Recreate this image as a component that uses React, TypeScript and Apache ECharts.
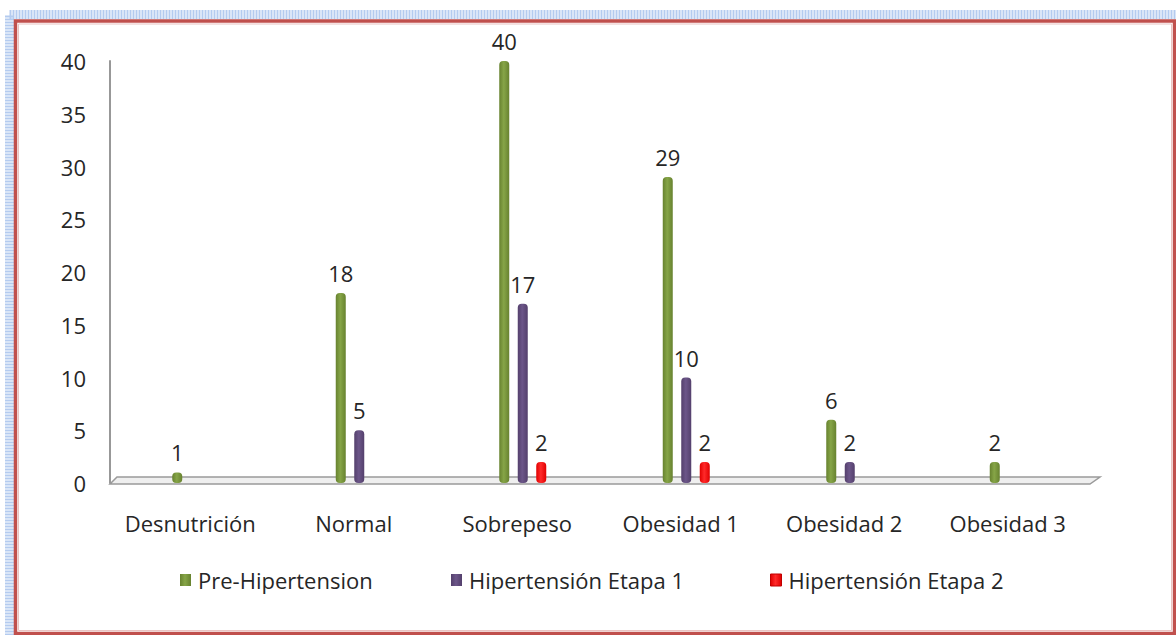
import React, { useEffect, useRef } from "react";
import * as echarts from "echarts";

const categories = ["Desnutrición", "Normal", "Sobrepeso", "Obesidad 1", "Obesidad 2", "Obesidad 3"];
const seriesNames = ["Pre-Hipertension", "Hipertensión Etapa 1", "Hipertensión Etapa 2"];
const preHipertension = [1, 18, 40, 29, 6, 2];
const hipertensionEtapa1 = [null, 5, 17, 10, 2, null];
const hipertensionEtapa2 = [null, null, 2, 2, null, null];
const yTicks = [0, 5, 10, 15, 20, 25, 30, 35, 40];

const FONT = "'Open Sans', 'DejaVu Sans', sans-serif";
const FS = 22;
const TEXT = "#262626";
const W = 1176;
const H = 635;
const GL = 114;
const GR_MARGIN = 81;
const GT = 61;
const GB_MARGIN = H - 483;

function cyl(light: string, dark: string) {
  return new echarts.graphic.LinearGradient(0, 0, 1, 0, [
    { offset: 0, color: dark },
    { offset: 0.45, color: light },
    { offset: 1, color: dark },
  ]);
}

export default function App() {
  const ref = useRef<HTMLDivElement>(null);
  useEffect(() => {
    if (!ref.current) return;
    const chart = echarts.init(ref.current, null, { renderer: "svg" });
    const GR = W - GR_MARGIN;
    const Y0 = H - GB_MARGIN;
    const colors = ["#77933c", "#604a7b", "#ff0000"];
    const fills = [
      cyl("#86a547", "#67822f"),
      cyl("#6c5689", "#54406c"),
      cyl("#ff2a2a", "#e00000"),
    ];
    const dataSets = [preHipertension, hipertensionEtapa1, hipertensionEtapa2];
    const legendLefts = [180, 451, 770];
    chart.setOption({
      animation: false,
      backgroundColor: "#ffffff",
      textStyle: { fontFamily: FONT },
      grid: { left: GL, right: GR_MARGIN, top: GT, bottom: GB_MARGIN, containLabel: false },
      legend: seriesNames.map((n, i) => ({
        left: legendLefts[i],
        top: 569,
        padding: 0,
        data: [n],
        itemWidth: 11,
        itemHeight: 12,
        icon: "rect",
        textStyle: { fontFamily: FONT, fontSize: FS, color: TEXT, padding: [0, 0, 0, 2] },
        itemStyle: i === 2 ? { borderColor: "#c00000", borderWidth: 1 } : {},
      })),
      xAxis: {
        type: "category",
        data: categories,
        axisLine: { show: false },
        axisTick: { show: false },
        axisLabel: {
          interval: 0,
          hideOverlap: false,
          fontFamily: FONT,
          fontSize: FS,
          color: TEXT,
          margin: 29,
          padding: [0, 11, 0, 0],
        },
        splitLine: { show: false },
      },
      yAxis: {
        type: "value",
        min: 0,
        max: 40,
        interval: 5,
        offset: 4,
        axisLine: { show: true, lineStyle: { color: "#989898", width: 2 } },
        axisTick: { show: false },
        splitLine: { show: false },
        axisLabel: {
          fontFamily: FONT,
          fontSize: FS,
          color: TEXT,
          margin: 24,
          formatter: (v: number) => (yTicks.includes(v) ? String(v) : ""),
        },
      },
      graphic: [
        {
          type: "rect",
          z: -10,
          silent: true,
          shape: { x: 9.5, y: 14.5, width: W + 20, height: H + 20 },
          style: { fill: "none", stroke: "#b4cbef", lineWidth: 9, lineDash: [2, 1] },
        },
        {
          type: "rect",
          z: -9,
          silent: true,
          shape: { x: 15.5, y: 21, width: 1159, height: 612.5 },
          style: { fill: "#ffffff", stroke: "#c0504d", lineWidth: 3.5 },
        },
        {
          type: "rect",
          z: -8,
          silent: true,
          shape: { x: 18.5, y: 24, width: 1153, height: 606.5 },
          style: { fill: "none", stroke: "#eac3c2", lineWidth: 1 },
        },
        {
          type: "polygon",
          z: -5,
          silent: true,
          shape: {
            points: [
              [GL - 4, Y0 + 1],
              [GR - 5, Y0 + 1],
              [GR + 5, Y0 - 6],
              [GL + 3, Y0 - 6],
            ],
          },
          style: { fill: "#efefef", stroke: "#9a9a9a", lineWidth: 1.5 },
        },
      ],
      series: seriesNames.map((n, i) => ({
        name: n,
        type: "bar",
        z: 5,
        data: dataSets[i],
        barWidth: 10,
        barGap: "85%",
        itemStyle: { color: fills[i], borderRadius: 4 },
        color: colors[i],
        label: {
          show: true,
          position: "top",
          distance: 9,
          fontFamily: FONT,
          fontSize: FS,
          color: TEXT,
        },
      })),
    });
    return () => chart.dispose();
  }, []);
  return (
    <div
      ref={ref}
      style={{ position: "fixed", left: 0, top: 0, width: W, height: H }}
    />
  );
}
